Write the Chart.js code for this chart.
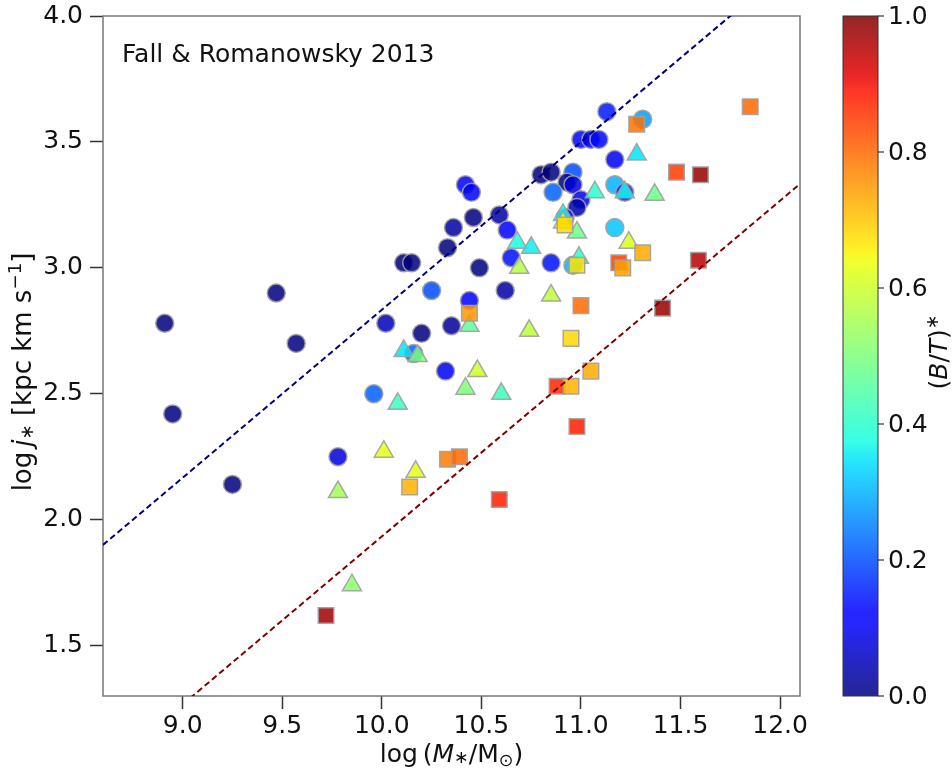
<!DOCTYPE html>
<html>
<head>
<meta charset="utf-8">
<script src="https://cdn.jsdelivr.net/npm/chart.js@4.4.1/dist/chart.umd.min.js"></script>
<style>
  html, body { margin: 0; padding: 0; background: #fff; }
</style>
</head>
<body>
<canvas id="jStarChart" width="952" height="769"></canvas>
<script>
// disks (circles)
const diskLogM = [8.91, 9.47, 9.57, 8.95, 9.25, 10.02, 10.20, 9.96, 9.78, 10.11, 10.15, 10.25, 10.16, 10.42, 10.45, 10.46, 10.36, 10.33, 10.59, 10.63, 10.49, 10.65, 10.62, 10.44, 10.35, 10.85, 10.96, 11.13, 11.31, 11.00, 11.05, 11.09, 11.17, 10.80, 10.85, 10.96, 10.93, 10.96, 10.86, 11.00, 10.98, 10.92, 11.17, 11.22, 11.17, 10.32];
const diskLogJ = [2.78, 2.90, 2.70, 2.42, 2.14, 2.78, 2.74, 2.50, 2.25, 3.02, 3.02, 2.91, 2.66, 3.33, 3.30, 3.20, 3.16, 3.08, 3.21, 3.15, 3.00, 3.04, 2.91, 2.87, 2.77, 3.02, 3.01, 3.62, 3.59, 3.51, 3.51, 3.51, 3.43, 3.37, 3.38, 3.38, 3.34, 3.33, 3.30, 3.27, 3.24, 3.20, 3.33, 3.30, 3.16, 2.59];
const diskBT = [0, 0, 0, 0, 0, 0.05, 0, 0.22, 0.08, 0, 0, 0.2, 0.22, 0.12, 0.1, 0, 0.03, 0, 0.03, 0.11, 0, 0.14, 0.03, 0.11, 0.02, 0.14, 0.3, 0.15, 0.28, 0.13, 0.12, 0.13, 0.1, 0, 0, 0.2, 0, 0.08, 0.22, 0.1, 0.04, 0.15, 0.3, 0.17, 0.32, 0.1];

// intermediate (triangles)
const midLogM = [10.11, 10.18, 10.08, 10.01, 10.17, 9.78, 9.85, 10.68, 10.75, 10.69, 10.44, 10.99, 10.85, 10.74, 10.91, 10.98, 11.07, 11.28, 11.22, 11.37, 11.24, 10.48, 10.42, 10.60, 10.91];
const midLogJ = [2.67, 2.65, 2.46, 2.27, 2.19, 2.11, 1.74, 3.10, 3.08, 3.00, 2.77, 3.04, 2.89, 2.75, 3.21, 3.14, 3.30, 3.45, 3.30, 3.29, 3.10, 2.59, 2.52, 2.50, 3.18];
const midBT = [0.35, 0.5, 0.42, 0.63, 0.63, 0.55, 0.52, 0.38, 0.36, 0.57, 0.46, 0.4, 0.58, 0.58, 0.37, 0.48, 0.4, 0.35, 0.37, 0.48, 0.61, 0.6, 0.5, 0.42, 0.63];

// bulges (squares)
const bulgeLogM = [9.72, 10.14, 10.33, 10.39, 10.59, 10.44, 10.98, 11.00, 10.95, 10.92, 11.28, 11.48, 11.60, 11.85, 11.31, 11.19, 11.21, 11.05, 10.88, 10.95, 11.41, 11.59, 10.98];
const bulgeLogJ = [1.62, 2.13, 2.24, 2.25, 2.08, 2.82, 3.01, 2.85, 2.72, 3.17, 3.57, 3.38, 3.37, 3.64, 3.06, 3.02, 3.00, 2.59, 2.53, 2.53, 2.84, 3.03, 2.37];
const bulgeBT = [0.97, 0.72, 0.78, 0.8, 0.88, 0.75, 0.67, 0.8, 0.68, 0.68, 0.79, 0.85, 0.98, 0.8, 0.73, 0.85, 0.74, 0.73, 0.87, 0.72, 0.98, 0.95, 0.88];

// j-M relations: log j = zero + slope * (log M - 11)
const relSlope = 2 / 3;
const diskZero = 3.5;
const bulgeZero = 2.6;

const xTicks = [9.0, 9.5, 10.0, 10.5, 11.0, 11.5, 12.0];
const yTicks = [1.5, 2.0, 2.5, 3.0, 3.5, 4.0];
const cbTicks = [0.0, 0.2, 0.4, 0.6, 0.8, 1.0];

const FONT = "'DejaVu Sans'";
const ALPHA = 0.85;

function ramp(t, pts) {
  for (let i = 1; i < pts.length; i++) {
    if (t <= pts[i][0]) {
      const [t0, v0] = pts[i - 1], [t1, v1] = pts[i];
      return v0 + (v1 - v0) * (t - t0) / (t1 - t0);
    }
  }
  return pts[pts.length - 1][1];
}

// matplotlib "jet"
function jet(t, a = ALPHA) {
  const r = ramp(t, [[0, 0], [0.35, 0], [0.66, 1], [0.89, 1], [1, 0.5]]);
  const g = ramp(t, [[0, 0], [0.125, 0], [0.375, 1], [0.64, 1], [0.91, 0], [1, 0]]);
  const b = ramp(t, [[0, 0.5], [0.11, 1], [0.34, 1], [0.65, 0], [1, 0]]);
  return `rgba(${Math.round(r * 255)},${Math.round(g * 255)},${Math.round(b * 255)},${a})`;
}

const toPoints = (xs, ys) => xs.map((x, i) => ({ x: x, y: ys[i] }));
const relLine = zero => [8.6, 12.1].map(x => ({ x: x, y: zero + relSlope * (x - 11) }));

const edge = 'rgba(160,160,160,0.9)';

function markerSet(label, xs, ys, bt, style, r, order) {
  return {
    label: label,
    data: toPoints(xs, ys),
    pointStyle: style,
    pointRadius: r,
    pointBackgroundColor: bt.map(v => jet(v)),
    pointBorderColor: edge,
    pointBorderWidth: 1.5,
    order: order
  };
}

function lineSet(label, zero, color) {
  return {
    label: label,
    data: relLine(zero),
    showLine: true,
    borderColor: color,
    borderWidth: 2,
    borderDash: [6, 3.5],
    pointRadius: 0,
    order: 0
  };
}

// rich text helpers (italic / sub / superscript pieces)
function partFont(p, size) {
  return (p.it ? 'italic ' : '') + (size * (p.s || 1)) + 'px ' + FONT;
}
function richWidth(ctx, parts, size) {
  let w = 0;
  parts.forEach(p => { ctx.font = partFont(p, size); w += ctx.measureText(p.t).width; });
  return w;
}
function drawRich(ctx, parts, size, x, y) {
  let cx = x;
  parts.forEach(p => {
    ctx.font = partFont(p, size);
    ctx.fillText(p.t, cx, y + (p.dy || 0) * size);
    cx += ctx.measureText(p.t).width;
  });
}

const xLabelParts = [
  { t: 'log' }, { t: ' ', s: 0.6 }, { t: '(' }, { t: 'M', it: true }, { t: '\u2217', s: 0.7, dy: 0.05 },
  { t: '/M' }, { t: '\u2299', s: 0.7, dy: 0.15 }, { t: ')' }
];
const yLabelParts = [
  { t: 'log' }, { t: ' ', s: 0.6 }, { t: 'j', it: true }, { t: '\u2217', s: 0.7, dy: 0.08 },
  { t: ' [kpc km s' }, { t: '\u22121', s: 0.7, dy: -0.38 }, { t: ']' }
];
const cbLabelParts = [
  { t: '(' }, { t: 'B', it: true }, { t: '/' }, { t: 'T', it: true }, { t: ')' }, { t: '\u2217', s: 0.7, dy: -0.35 }
];
const panelTitle = 'Fall & Romanowsky 2013';

const framePlugin = {
  id: 'frame',
  beforeDatasetsDraw(chart) {
    const { ctx, chartArea: ca } = chart;
    ctx.save();
    ctx.strokeStyle = '#777';
    ctx.lineWidth = 1.5;
    ctx.strokeRect(ca.left, ca.top, ca.right - ca.left, ca.bottom - ca.top);
    ctx.restore();
  }
};

const decorPlugin = {
  id: 'decor',
  afterDraw(chart) {
    const { ctx, chartArea: ca } = chart;
    const size = 25;
    ctx.save();
    ctx.fillStyle = '#111';
    ctx.textBaseline = 'alphabetic';
    ctx.textAlign = 'left';

    // panel title
    ctx.font = size + 'px ' + FONT;
    ctx.fillText(panelTitle, ca.left + 19, ca.top + 46);

    // x label
    const xw = richWidth(ctx, xLabelParts, size);
    drawRich(ctx, xLabelParts, size, (ca.left + ca.right) / 2 - xw / 2, 762);

    // y label
    const ys = 26;
    const yw = richWidth(ctx, yLabelParts, ys);
    ctx.save();
    ctx.translate(31, 372);
    ctx.rotate(-Math.PI / 2);
    drawRich(ctx, yLabelParts, ys, -yw / 2, 0);
    ctx.restore();

    // colour bar
    const x0 = ca.right + 43, w = 35, h = ca.bottom - ca.top;
    const grad = ctx.createLinearGradient(0, ca.bottom, 0, ca.top);
    for (let i = 0; i <= 64; i++) grad.addColorStop(i / 64, jet(i / 64));
    ctx.fillStyle = grad;
    ctx.fillRect(x0, ca.top, w, h);
    ctx.strokeStyle = '#333';
    ctx.lineWidth = 1;
    ctx.strokeRect(x0, ca.top, w, h);

    ctx.fillStyle = '#111';
    ctx.font = size + 'px ' + FONT;
    ctx.textBaseline = 'middle';
    ctx.lineWidth = 1.2;
    cbTicks.forEach(v => {
      const y = ca.bottom - v * h;
      ctx.beginPath();
      ctx.moveTo(x0 + w, y);
      ctx.lineTo(x0 + w + 6, y);
      ctx.stroke();
      ctx.fillText(v.toFixed(1), x0 + w + 10, y + 1);
    });

    ctx.textBaseline = 'alphabetic';
    const cw = richWidth(ctx, cbLabelParts, size);
    ctx.translate(947, 352);
    ctx.rotate(-Math.PI / 2);
    drawRich(ctx, cbLabelParts, size, -cw / 2, 0);
    ctx.restore();
  }
};

const tickFont = { family: FONT, size: 25 };

new Chart(document.getElementById('jStarChart'), {
  type: 'scatter',
  data: {
    datasets: [
      lineSet('disk relation', diskZero, '#000080'),
      lineSet('bulge relation', bulgeZero, '#800000'),
      markerSet('bulges', bulgeLogM, bulgeLogJ, bulgeBT, 'rect', 11, 1),
      markerSet('intermediate', midLogM, midLogJ, midBT, 'triangle', 11, 2),
      markerSet('disks', diskLogM, diskLogJ, diskBT, 'circle', 9, 3)
    ]
  },
  options: {
    responsive: false,
    animation: false,
    devicePixelRatio: 1,
    layout: { padding: { top: 16, right: 152, left: 0, bottom: 0 } },
    plugins: {
      legend: { display: false },
      tooltip: { enabled: false }
    },
    scales: {
      x: {
        type: 'linear',
        min: 8.6,
        max: 12.1,
        afterBuildTicks: s => { s.ticks = xTicks.map(v => ({ value: v })); },
        afterFit: s => { s.height = 73; s.paddingLeft = 0; s.paddingRight = 0; },
        grid: { drawOnChartArea: false, tickLength: 13, tickWidth: 1.5, tickColor: '#333' },
        border: { display: false },
        ticks: { font: tickFont, color: '#111', padding: 2, maxRotation: 0, autoSkip: false, callback: v => v.toFixed(1) }
      },
      y: {
        type: 'linear',
        min: 1.3,
        max: 4.0,
        afterBuildTicks: s => { s.ticks = yTicks.map(v => ({ value: v })); },
        afterFit: s => { s.width = 103; s.paddingTop = 0; s.paddingBottom = 0; },
        grid: { drawOnChartArea: false, tickLength: 13, tickWidth: 1.5, tickColor: '#333' },
        border: { display: false },
        ticks: { font: tickFont, color: '#111', padding: 7, autoSkip: false, callback: v => v.toFixed(1) }
      }
    }
  },
  plugins: [framePlugin, decorPlugin]
});
</script>
</body>
</html>
